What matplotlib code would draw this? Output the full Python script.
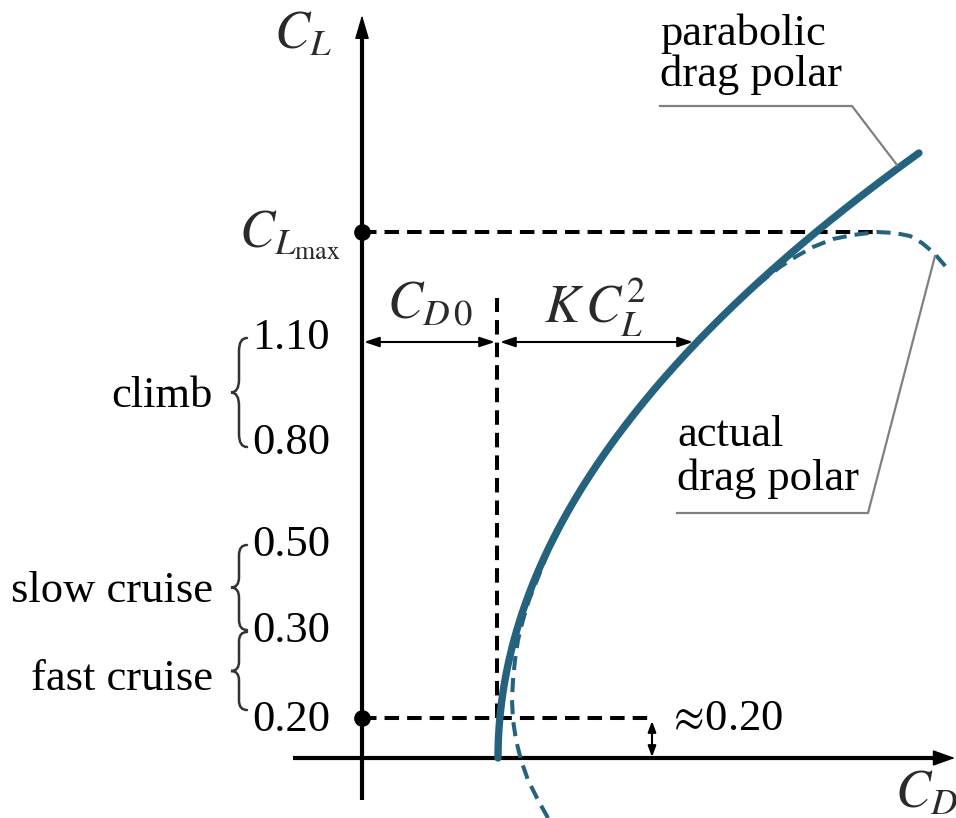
import numpy as np
import matplotlib
matplotlib.use("Agg")
from matplotlib import pyplot as plt
from matplotlib.path import Path
from matplotlib.patches import PathPatch

plt.rcParams['font.family'] = ['Liberation Serif', 'DejaVu Serif']
plt.rcParams['mathtext.fontset'] = 'stix'

# schematic axes: C_D to the right, C_L upwards (arbitrary units)
CD0 = 1.36
K = 0.115
CL_END = 6.05
CL_MAX = 5.26
CL_MIN_DRAG = 0.40

# lift coefficient bands on the C_L axis
tick_labels = ['1.10', '0.80', '0.50', '0.30', '0.20']
tick_pos = [4.20, 3.15, 2.13, 1.27, 0.38]
arrow_level = 4.16

band_names = ['climb', 'slow cruise', 'fast cruise']
band_text_y = [3.51, 1.56, 0.68]
band_top = [4.20, 2.13, 1.26]
band_bottom = [3.11, 1.28, 0.48]

actual_cd = [1.86, 1.76, 1.66, 1.59, 1.54, 1.51, 1.50, 1.51, 1.53, 1.56, 1.61,
             1.67, 1.87, 2.13, 2.46, 2.84, 3.28, 3.78, 4.05, 4.18, 4.35, 4.51,
             4.71, 4.91, 5.15, 5.33, 5.48, 5.60, 5.72, 5.85]
actual_cl = [-0.60, -0.42, -0.22, -0.02, 0.18, 0.38, 0.58, 0.78, 0.98, 1.18, 1.38,
             1.58, 2.08, 2.58, 3.08, 3.58, 4.08, 4.58, 4.81, 4.91, 5.02, 5.11,
             5.19, 5.23, 5.26, 5.25, 5.22, 5.15, 5.05, 4.90]

TEAL = '#24627d'
FS = 32

fig = plt.figure(figsize=(9.56, 8.18), dpi=100)
ax = fig.add_axes([0, 0, 1, 1])
ax.set_xlim(-3.62, 5.94)
ax.set_ylim(-0.60, 7.58)
ax.axis('off')

# axes with arrow heads
ax.plot([0, 0], [-0.42, 7.26], color='k', lw=3, solid_capstyle='butt')
ax.annotate('', xy=(0, 7.43), xytext=(0, 7.1),
            arrowprops=dict(arrowstyle='-|>,head_length=0.75,head_width=0.22',
                            mutation_scale=20, lw=1, color='k', shrinkA=0, shrinkB=0))
ax.plot([-0.69, 5.77], [0, 0], color='k', lw=3, solid_capstyle='butt')
ax.annotate('', xy=(5.93, 0), xytext=(5.6, 0),
            arrowprops=dict(arrowstyle='-|>,head_length=0.7,head_width=0.25',
                            mutation_scale=20, lw=1, color='k', shrinkA=0, shrinkB=0))

# reference dashed lines
dash = dict(color='k', lw=2.9, linestyle=(0, (3.6, 2.0)))
ax.plot([0, 5.13], [CL_MAX, CL_MAX], **dash)
ax.plot([0, 2.93], [CL_MIN_DRAG, CL_MIN_DRAG], **dash)
ax.plot([CD0 - 0.01, CD0 - 0.01], [CL_MIN_DRAG, 4.60], **dash)
ax.plot([0, 0], [CL_MAX, CL_MIN_DRAG], 'o', color='k', ms=11, ls='none')

# dimension arrows for C_D0 and K C_L^2
dim = dict(arrowstyle='<|-|>,head_length=0.45,head_width=0.15', mutation_scale=20,
           lw=1.5, color='k', shrinkA=0, shrinkB=0)
ax.annotate('', xy=(0.02, arrow_level), xytext=(CD0 - 0.03, arrow_level), arrowprops=dim)
ax.annotate('', xy=(CD0 + 0.02, arrow_level), xytext=(CD0 + K * arrow_level ** 2 - 0.04, arrow_level),
            arrowprops=dim)
small = dict(dim, arrowstyle='<|-|>,head_length=0.32,head_width=0.12')
ax.annotate('', xy=(2.90, 0.01), xytext=(2.90, CL_MIN_DRAG - 0.03), arrowprops=small)

# drag polars
ax.plot(actual_cd, actual_cl, color=TEAL, lw=2.9, linestyle=(0, (3.5, 2.0)))
cl = np.linspace(0, CL_END, 200)
ax.plot(CD0 + K * cl ** 2, cl, color=TEAL, lw=5.3, solid_capstyle='round')

# leader lines
ax.plot([2.98, 4.90, 5.35], [6.52, 6.52, 5.93], color='#808080', lw=1.6)
ax.plot([3.15, 5.06, 5.73], [2.45, 2.45, 5.02], color='#808080', lw=1.6)


def brace(x_tip, x_end, y_top, y_bot):
    xm = (x_tip + x_end) / 2
    ym = (y_top + y_bot) / 2
    r = 0.12 * (y_top - y_bot)
    verts = [(x_end, y_top), (xm, y_top), (xm, y_top - r),
             (xm, ym + r), (xm, ym), (x_tip, ym),
             (xm, ym), (xm, ym - r),
             (xm, y_bot + r), (xm, y_bot), (x_end, y_bot)]
    codes = [Path.MOVETO, Path.CURVE3, Path.CURVE3,
             Path.LINETO, Path.CURVE3, Path.CURVE3,
             Path.CURVE3, Path.CURVE3,
             Path.LINETO, Path.CURVE3, Path.CURVE3]
    ax.add_patch(PathPatch(Path(verts, codes), fill=False, lw=1.8,
                           edgecolor='#333333', capstyle='round'))


for name, ty, top, bot in zip(band_names, band_text_y, band_top, band_bottom):
    ax.text(-1.49, ty, name, fontsize=FS, ha='right', va='baseline')
    brace(-1.31, -1.15, top, bot)

for lab, y in zip(tick_labels, tick_pos):
    ax.text(-0.32, y, lab, fontsize=FS, ha='right', va='center')

math = dict(fontsize=38, color='#2a2a2a', va='center')
ax.text(-0.59, 7.22, r'$C_L$', ha='center', **math)
ax.text(-0.21, 5.23, r'$C_{L_{\mathrm{max}}}$', ha='right', **math)
ax.text(0.68, 4.53, r'$C_{D\,0}$', ha='center', **math)
ax.text(2.33, 4.51, r'$K\,C_L^2$', ha='center', **math)
ax.text(5.64, -0.37, r'$C_D$', ha='center', **math)
ax.text(3.05, 0.39, r'$\approx\!$0.20', fontsize=FS, ha='left', va='center')

ax.text(2.98, 7.13, 'parabolic', fontsize=FS, va='baseline')
ax.text(2.98, 6.72, 'drag polar', fontsize=FS, va='baseline')
ax.text(3.15, 3.12, 'actual', fontsize=FS, va='baseline')
ax.text(3.15, 2.68, 'drag polar', fontsize=FS, va='baseline')

fig.savefig('out.png', dpi=100)
